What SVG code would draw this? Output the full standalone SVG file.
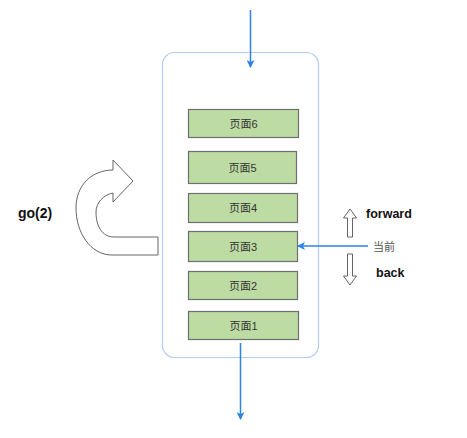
<svg xmlns="http://www.w3.org/2000/svg" width="467" height="438" viewBox="0 0 467 438">
<style>
.page rect{fill:#bddca3;stroke:#6f6f6f;stroke-width:1.2}
.page text{font-family:"Liberation Sans","Noto Sans CJK SC",sans-serif;font-size:11px;fill:#333;text-anchor:middle;dominant-baseline:central}
.conn{stroke:#2b83e6;stroke-width:1.5;fill:none}
.lbl{font-family:"Liberation Sans","Noto Sans CJK SC",sans-serif;font-weight:bold;font-size:12.5px;fill:#111}
.hollow{fill:#fff;stroke:#555;stroke-width:0.9}
</style>
<defs>
<marker id="ah" markerWidth="8" markerHeight="8" refX="7" refY="4" orient="auto" markerUnits="userSpaceOnUse">
<path d="M0,0 L8,4 L0,8 L2,4 Z" fill="#2b83e6"/>
</marker>
</defs>
<rect width="467" height="438" fill="#fff"/>
<g id="container"><rect x="162.5" y="52.5" width="156" height="305" rx="12" fill="#fff" stroke="#b3cdee" stroke-width="1.2"/></g>
<g id="page6" class="page"><rect x="188.5" y="109.5" width="110" height="28"/><text x="243.5" y="123.5">页面6</text></g>
<g id="page5" class="page"><rect x="188.5" y="151.5" width="108" height="32"/><text x="242.5" y="167.5">页面5</text></g>
<g id="page4" class="page"><rect x="188.5" y="193.5" width="109" height="29"/><text x="243" y="208">页面4</text></g>
<g id="page3" class="page"><rect x="188.5" y="231.5" width="109" height="30"/><text x="243" y="246.5">页面3</text></g>
<g id="page2" class="page"><rect x="188.5" y="271.5" width="109" height="28"/><text x="243" y="285.5">页面2</text></g>
<g id="page1" class="page"><rect x="188.5" y="311.5" width="110" height="28"/><text x="243.5" y="325.5">页面1</text></g>
<g id="connectors">
<line class="conn" x1="250.5" y1="10" x2="250.5" y2="67" marker-end="url(#ah)"/>
<line class="conn" x1="240.5" y1="343" x2="240.5" y2="419" marker-end="url(#ah)"/>
<line class="conn" x1="368" y1="246" x2="298" y2="246" marker-end="url(#ah)"/>
</g>
<g id="go-arrow"><path class="hollow" d="M158,255 L112,255 C90,255 76,232 76,208 C76,185 92,170 113,170 L113,160 L133,181 L113,202 L113,193 C103,195 96,203 96,212 C96,226 102,237 114,237 L158,237 Z"/></g>
<g id="go-label"><text class="lbl" x="18" y="218" style="font-size:14px">go(2)</text></g>
<g id="forward"><path class="hollow" d="M347.5,237 L347.5,218 L343.5,218 L350,209 L356.5,218 L352.5,218 L352.5,237 Z"/><text class="lbl" x="366" y="218">forward</text></g>
<g id="current"><text x="373" y="251" font-family="'Liberation Sans','Noto Sans CJK SC',sans-serif" font-size="11" fill="#555">当前</text></g>
<g id="back"><path class="hollow" d="M347.5,254 L352.5,254 L352.5,276 L356.5,276 L350,285 L343.5,276 L347.5,276 Z"/><text class="lbl" x="376" y="277">back</text></g>
</svg>
